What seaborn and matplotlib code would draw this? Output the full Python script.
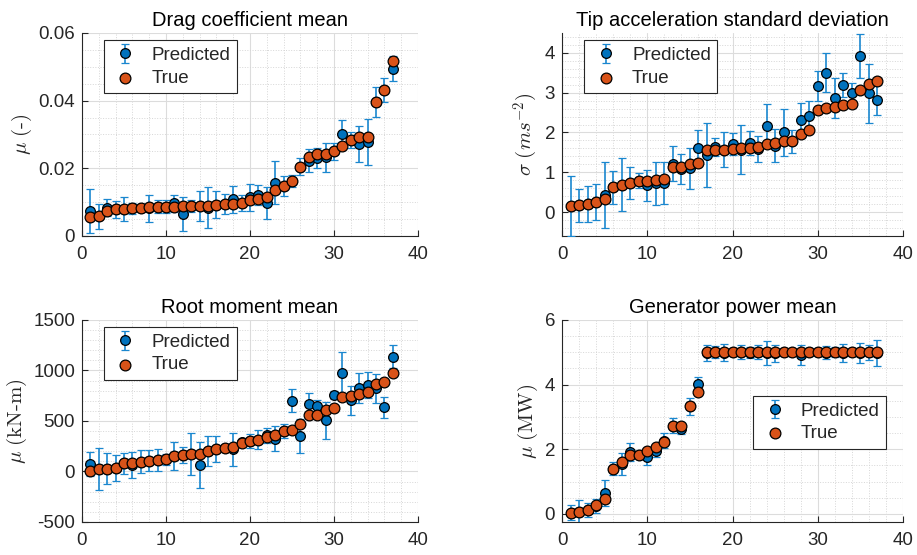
import numpy as np
import pandas as pd
import matplotlib
matplotlib.use('Agg')
import matplotlib.pyplot as plt
from matplotlib.ticker import MultipleLocator, FuncFormatter
import seaborn as sns

# case index 1..37
cases = list(range(1, 38))

# drag coefficient mean
drag_true = [0.0056, 0.0058, 0.0074, 0.0079, 0.0079, 0.0082, 0.0082, 0.0085, 0.0087, 0.0087,
             0.0087, 0.0088, 0.0088, 0.0089, 0.0090, 0.0092, 0.0094, 0.0095, 0.0097, 0.0107,
             0.0109, 0.0114, 0.0136, 0.0148, 0.0163, 0.0205, 0.0233, 0.0243, 0.0243, 0.0250,
             0.0266, 0.0284, 0.0292, 0.0292, 0.0396, 0.0431, 0.0518]
drag_pred = [0.0073, 0.0058, 0.0084, 0.0079, 0.0079, 0.0082, 0.0082, 0.0082, 0.0087, 0.0087,
             0.0097, 0.0064, 0.0088, 0.0088, 0.0084, 0.0092, 0.0094, 0.0109, 0.0097, 0.0114,
             0.0122, 0.0097, 0.0158, 0.0148, 0.0163, 0.0205, 0.0223, 0.0231, 0.0233, 0.0250,
             0.0302, 0.0284, 0.0272, 0.0279, 0.0396, 0.0431, 0.0494]
drag_err = [0.0065, 0.0036, 0.0026, 0.0025, 0.0035, 0.0016, 0.0012, 0.0040, 0.0020, 0.0020,
            0.0025, 0.0050, 0.0018, 0.0045, 0.0060, 0.0040, 0.0030, 0.0040, 0.0024, 0.0040,
            0.0030, 0.0047, 0.0063, 0.0030, 0.0017, 0.0026, 0.0033, 0.0030, 0.0043, 0.0024,
            0.0040, 0.0024, 0.0053, 0.0068, 0.0045, 0.0035, 0.0037]

# tip acceleration standard deviation
tip_true = [0.15, 0.19, 0.21, 0.25, 0.33, 0.625, 0.69, 0.73, 0.79, 0.79,
            0.81, 0.82, 1.125, 1.14, 1.21, 1.23, 1.56, 1.57, 1.57, 1.59,
            1.61, 1.62, 1.625, 1.71, 1.73, 1.775, 1.775, 1.95, 2.05, 2.57,
            2.61, 2.64, 2.68, 2.71, 3.07, 3.23, 3.29]
tip_pred = [0.15, 0.17, 0.21, 0.25, 0.44, 0.625, 0.69, 0.73, 0.79, 0.67,
            0.73, 0.73, 1.22, 1.08, 1.10, 1.61, 1.43, 1.64, 1.57, 1.71,
            1.57, 1.73, 1.58, 2.17, 1.67, 2.00, 1.775, 2.31, 2.42, 3.17,
            3.50, 2.86, 3.19, 2.98, 3.92, 2.98, 2.82]
tip_err = [0.75, 0.42, 0.45, 0.45, 0.83, 0.42, 0.67, 0.40, 0.19, 0.39,
           0.54, 0.53, 0.45, 0.37, 0.52, 0.44, 0.80, 0.23, 0.44, 0.28,
           0.62, 0.30, 0.33, 0.55, 0.41, 0.60, 0.30, 0.44, 0.38, 0.38,
           0.49, 0.50, 0.30, 0.26, 0.56, 0.75, 0.37]

# root moment mean
root_true = [6, 23, 29, 33, 81, 88, 94, 107, 114, 120,
             153, 160, 173, 176, 202, 225, 231, 244, 277, 303,
             316, 342, 365, 401, 414, 472, 560, 560, 612, 625,
             733, 749, 765, 788, 863, 889, 971]
root_pred = [75, 23, 29, 33, 81, 65, 94, 107, 114, 120,
             153, 160, 173, 65, 202, 225, 231, 218, 293, 303,
             316, 358, 326, 401, 700, 349, 668, 645, 505, 759,
             971, 707, 824, 853, 824, 635, 1137]
root_err = [116, 205, 155, 127, 103, 130, 114, 107, 107, 54,
            140, 80, 203, 225, 150, 127, 33, 160, 33, 70,
            98, 72, 124, 73, 114, 166, 107, 65, 179, 41,
            212, 143, 150, 130, 143, 101, 116]

# generator power mean
gen_true = [0.04, 0.07, 0.12, 0.28, 0.47, 1.40, 1.62, 1.83, 1.83, 1.96,
            2.07, 2.21, 2.73, 2.73, 3.33, 3.78, 5.0, 5.0, 5.0, 5.0,
            5.0, 5.0, 5.0, 5.0, 5.0, 5.0, 5.0, 5.0, 5.0, 5.0,
            5.0, 5.0, 5.0, 5.0, 5.0, 5.0, 5.0]
gen_pred = [0.04, 0.07, 0.12, 0.25, 0.64, 1.40, 1.54, 1.91, 1.83, 1.75,
            1.96, 2.27, 2.73, 2.63, 3.33, 4.03, 4.98, 5.0, 4.99, 5.0,
            5.0, 4.99, 5.0, 4.98, 4.97, 5.0, 5.0, 4.91, 5.0, 5.0,
            4.99, 5.0, 4.99, 5.0, 4.99, 5.0, 4.99]
gen_err = [0.22, 0.37, 0.22, 0.22, 0.40, 0.20, 0.34, 0.27, 0.05, 0.25,
           0.20, 0.24, 0.23, 0.17, 0.26, 0.22, 0.26, 0.19, 0.26, 0.13,
           0.21, 0.17, 0.22, 0.36, 0.26, 0.10, 0.08, 0.30, 0.13, 0.13,
           0.20, 0.15, 0.28, 0.13, 0.31, 0.24, 0.40]

titles = ['Drag coefficient mean', 'Tip acceleration standard deviation',
          'Root moment mean', 'Generator power mean']
ylabels = [r'$\mu\ (\text{-})$', r'$\sigma\ (ms^{-2})$',
           r'$\mu\ (\mathrm{kN\text{-}m})$', r'$\mu\ (\mathrm{MW})$']

BLUE = '#0072BD'
BAR = '#1a87cf'
ORANGE = '#D95319'
DARK = '#262626'

sns.set_theme(style='white')
plt.rcParams['font.family'] = ['Liberation Sans', 'DejaVu Sans']
plt.rcParams['mathtext.fontset'] = 'cm'
plt.rcParams['axes.unicode_minus'] = False

fig = plt.figure(figsize=(9.17, 5.55), dpi=100)

positions = [[0.0894, 0.5748, 0.3664, 0.3658],
             [0.6129, 0.5748, 0.3719, 0.3658],
             [0.0894, 0.0595, 0.3664, 0.3640],
             [0.6129, 0.0595, 0.3719, 0.3640]]
ylims = [(0, 0.06), (-0.6, 4.5), (-500, 1500), (-0.25, 6)]
ymajor = [0.02, 1, 500, 2]
yminor = [0.005, 0.2, 100, 0.5]
legend_anchor = [(0.065, 0.965), (0.065, 0.965), (0.065, 0.965), (0.56, 0.624)]

datasets = [(drag_true, drag_pred, drag_err), (tip_true, tip_pred, tip_err),
            (root_true, root_pred, root_err), (gen_true, gen_pred, gen_err)]

for i, (tv, pv, ev) in enumerate(datasets):
    ax = fig.add_axes(positions[i])
    df = pd.DataFrame({'case': cases, 'true': tv, 'pred': pv, 'err': ev})

    eb = ax.errorbar(df['case'], df['pred'], yerr=df['err'], fmt='o', color=BAR,
                     mfc=BLUE, mec='black', mew=0.9, ms=7, elinewidth=1.2,
                     capsize=2.6, capthick=1.2, label='Predicted', zorder=3)
    sns.scatterplot(data=df, x='case', y='true', ax=ax, color=ORANGE, s=60,
                    edgecolor='black', linewidth=0.9, label='True', zorder=4)

    ax.set_xlim(0, 40)
    ax.set_ylim(*ylims[i])
    ax.xaxis.set_major_locator(MultipleLocator(10))
    ax.xaxis.set_minor_locator(MultipleLocator(2))
    ax.yaxis.set_major_locator(MultipleLocator(ymajor[i]))
    ax.yaxis.set_minor_locator(MultipleLocator(yminor[i]))
    ax.yaxis.set_major_formatter(FuncFormatter(lambda v, p: f'{v:g}'))

    ax.grid(which='major', color='#dcdcdc', linewidth=0.8, linestyle='-')
    ax.grid(which='minor', color='#d6d6d6', linewidth=0.7, linestyle=':')
    ax.set_axisbelow(True)

    for s in ['top', 'right']:
        ax.spines[s].set_visible(False)
    for s in ['left', 'bottom']:
        ax.spines[s].set_color(DARK)
        ax.spines[s].set_linewidth(0.8)
    ax.tick_params(which='major', direction='in', length=4, width=0.8,
                   color=DARK, labelcolor=DARK, labelsize=13.5,
                   bottom=True, left=True)
    ax.tick_params(which='minor', bottom=False, left=False)
    ax.tick_params(axis='x', pad=7)
    ax.tick_params(axis='y', pad=5)

    ax.set_title(titles[i], fontsize=14.5, color='black', pad=5)
    ax.set_xlabel('')
    ax.set_ylabel(ylabels[i], fontsize=15, color=DARK, labelpad=3)

    handles, labels = ax.get_legend_handles_labels()
    order = [labels.index('Predicted'), labels.index('True')]
    leg = ax.legend([handles[k] for k in order], [labels[k] for k in order],
                    loc='upper left', bbox_to_anchor=legend_anchor[i],
                    fontsize=13.5, frameon=True, fancybox=False, framealpha=1,
                    edgecolor=DARK, borderpad=0.35, handletextpad=0.6,
                    labelspacing=0.3, handlelength=1.6, borderaxespad=0)
    leg.get_frame().set_linewidth(0.8)

fig.savefig('out.png', dpi=100)
